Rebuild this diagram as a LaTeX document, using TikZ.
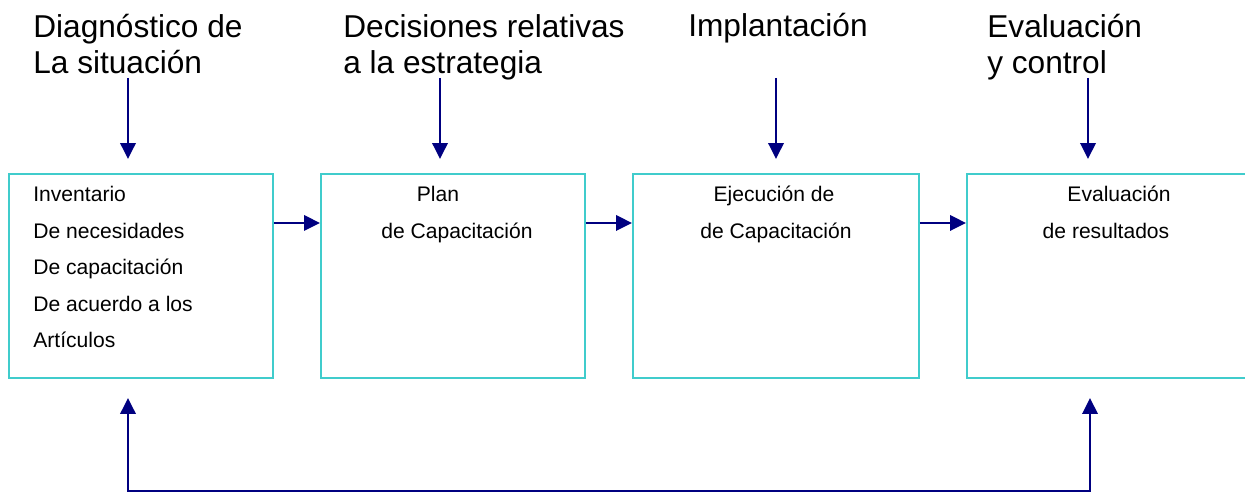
\documentclass[tikz,border=0pt]{standalone}
\usepackage{fontspec}
\setmainfont{Liberation Sans}
\usetikzlibrary{arrows.meta}
\definecolor{boxcyan}{RGB}{64,204,204}
\definecolor{arrnavy}{RGB}{0,0,128}
\tikzset{
  stage/.style={draw=boxcyan, line width=1.1pt, anchor=north west, inner sep=0pt, minimum height=4.08cm},
  flow/.style={draw=arrnavy, line width=1.1pt, -{Triangle[length=0.32cm,width=0.31cm]}},
  head/.style={anchor=base west, align=left, inner sep=0pt, font=\fontsize{18}{21}\selectfont},
  txt/.style={anchor=base, inner sep=0pt, font=\fontsize{12}{14}\selectfont}
}
\begin{document}
\begin{tikzpicture}[x=0.02cm, y=-0.02cm]
  \useasboundingbox (0,0) rectangle (1245,493);
  % etapas
  \node[stage, minimum width=5.28cm] (b1) at (8,173) {};
  \node[stage, minimum width=5.28cm] (b2) at (320,173) {};
  \node[stage, minimum width=5.72cm] (b3) at (632,173) {};
  \node[stage, minimum width=6cm] (b4) at (966,173) {};
  % titulos (base = ultima linea)
  \node[head] (t1) at (33,74) {Diagnóstico de\\La situación};
  \node[head] (t2) at (343,74) {Decisiones relativas\\a la estrategia};
  \node[head] (t3) at (688,37) {Implantación};
  \node[head] (t4) at (987,74) {Evaluación\\y control};
  % texto de las cajas
  \node[txt, anchor=base west] (i1) at (33,202) {Inventario};
  \node[txt, anchor=base west] (i2) at (33,238.5) {De necesidades};
  \node[txt, anchor=base west] (i3) at (33,275) {De capacitación};
  \node[txt, anchor=base west] (i4) at (33,311.5) {De acuerdo a los};
  \node[txt, anchor=base west] (i5) at (33,348) {Artículos};
  \node[txt] (p1) at (438,202) {Plan};
  \node[txt] (p2) at (457,238.5) {de Capacitación};
  \node[txt] (e1) at (774,202) {Ejecución de};
  \node[txt] (e2) at (776,238.5) {de Capacitación};
  \node[txt] (r1) at (1119,202) {Evaluación};
  \node[txt] (r2) at (1106,238.5) {de resultados};
  % flechas
  \foreach \a/\b in {b1/b2,b2/b3,b3/b4}
    \draw[flow] ([yshift=-1cm]\a.north east) -- ([yshift=-1cm]\b.north west);
  \foreach \x/\b in {128/b1,440/b2,776/b3,1088/b4}
    \draw[flow] (\x,78) coordinate (top\b) -- ([yshift=0.28cm]top\b |- \b.north);
  % retroalimentacion
  \coordinate (fbL) at (128,398);
  \coordinate (fbR) at (1090,398);
  \draw[flow, {Triangle[length=0.32cm,width=0.31cm]}-{Triangle[length=0.32cm,width=0.31cm]}] (fbL) -- (fbL |- 0,491) -| (fbR);
\end{tikzpicture}
\end{document}
